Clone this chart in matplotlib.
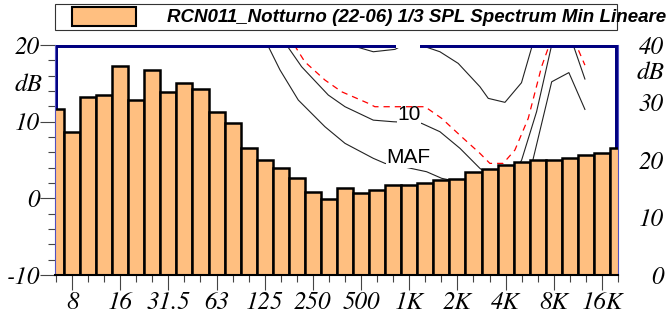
import matplotlib
matplotlib.use("Agg")
import matplotlib.pyplot as plt
from matplotlib.patches import Rectangle
from matplotlib.font_manager import FontProperties
from matplotlib.ticker import FixedLocator, MultipleLocator
import numpy as np

plt.rcParams['axes.unicode_minus'] = False

# 1/3 octave bands and measured levels (dB)
bands = ["6.3", "8", "10", "12.5", "16", "20", "25", "31.5", "40", "50",
         "63", "80", "100", "125", "160", "200", "250", "315", "400", "500",
         "630", "800", "1K", "1.25K", "1.6K", "2K", "2.5K", "3.15K", "4K", "5K",
         "6.3K", "8K", "10K", "12.5K", "16K", "20K"]
levels = [11.6, 8.6, 13.2, 13.5, 17.2, 12.8, 16.7, 13.9, 15.0, 14.2,
          11.3, 9.8, 6.6, 5.0, 4.0, 2.6, 0.8, -0.1, 1.4, 0.7,
          1.1, 1.8, 1.7, 2.0, 2.4, 2.5, 3.5, 3.8, 4.3, 4.8,
          5.0, 5.0, 5.3, 5.6, 5.9, 6.6]
tick_bands = ["8", "16", "31.5", "63", "125", "250", "500", "1K", "2K", "4K", "8K", "16K"]
left_ticks = [-10, 0, 10, 20]
right_ticks = [0, 10, 20, 30, 40]

# hearing curves, x in band position units
maf_x = [13.18, 13.95, 15.09, 16.75, 18.0, 19.76, 20.49, 21.9, 23.08, 24.02, 25.2, 27.5, 29.0, 29.7, 30.87, 31.94, 32.94]
maf_db = [20.0, 16.75, 12.82, 9.34, 7.17, 5.22, 4.56, 4.0, 3.47, 2.61, 2.1, 0.0, -1.0, 5.0, 15.2, 16.4, 11.6]
c10_x = [14.36, 15.3, 16.96, 18.0, 19.76, 21.0, 21.9, 22.77, 23.91, 25.16, 26.4, 27.0, 27.96, 28.58, 29.0, 29.93, 30.87, 31.5, 32.21, 32.94]
c10_db = [20.0, 17.16, 13.47, 11.95, 10.2, 9.99, 9.9, 9.78, 8.69, 6.52, 3.91, 3.0, 2.6, 3.4, 5.0, 11.3, 20.0, 25.0, 20.0, 15.56]
c20_x = [18.31, 19.76, 21.11, 21.9, 22.67, 23.91, 25.05, 26.4, 26.92, 27.96, 28.99, 29.67]
c20_db = [20.0, 19.12, 19.43, 20.3, 20.0, 19.12, 17.6, 14.56, 13.04, 12.52, 15.08, 20.0]
red_x = [14.84, 15.5, 16.75, 17.79, 19.45, 19.86, 22.98, 24.02, 25.26, 26.4, 27.02, 27.85, 28.58, 29.41, 30.24, 30.72, 31.5, 32.4, 32.94]
red_db = [20.0, 17.8, 15.43, 13.9, 12.39, 11.95, 11.95, 10.43, 8.03, 5.87, 4.56, 4.56, 6.3, 10.43, 17.16, 20.0, 26.0, 20.0, 17.37]

serif = FontProperties(family='FreeSerif', style='italic', size=18)

fig = plt.figure(figsize=(6.68, 3.22), dpi=100)
ax = fig.add_axes([55 / 668, 47 / 322, 563 / 668, 230 / 322])

x = np.arange(len(bands))
vals = np.array(levels)
ax.bar(x, vals + 10, bottom=-10, width=1.0, color='#FFBF80',
       edgecolor='black', linewidth=1.8, zorder=2)

ax.plot(maf_x, maf_db, color='#222222', lw=0.8, zorder=1.2)
ax.plot(c10_x, c10_db, color='#222222', lw=0.8, zorder=1.2)
ax.plot(c20_x, c20_db, color='#222222', lw=0.8, zorder=1.2)
ax.plot(red_x, red_db, color='red', lw=0.9, dashes=(5, 4), zorder=1.5)

ax.text(21.95, 5.3, "MAF", family='Liberation Sans', size=15, ha='center', va='center',
        zorder=1.4, bbox=dict(facecolor='white', edgecolor='none', pad=0.5))
ax.text(21.98, 10.9, "10", family='Liberation Sans', size=15, ha='center', va='center',
        zorder=1.4, bbox=dict(facecolor='white', edgecolor='none', pad=0.5))

# thick navy frame beneath the bars
ax.plot([0, 0, 1, 1], [0, 1, 1, 0], transform=ax.transAxes, color='#000080',
        lw=4.3, zorder=1.8, solid_joinstyle='miter')
ax.add_patch(Rectangle((21.2, 19.6), 1.5, 0.4, facecolor='white', edgecolor='none', zorder=1.9))

ax.set_xlim(-0.06, 35.0)
ax.set_ylim(-10, 20)

ax.spines['top'].set_visible(False)
ax.spines['left'].set_color('#5050c0')
ax.spines['left'].set_linewidth(0.8)
ax.spines['right'].set_color('#5050c0')
ax.spines['right'].set_linewidth(0.8)
ax.spines['bottom'].set_color('black')
ax.spines['bottom'].set_linewidth(1.5)

tick_pos = [bands.index(b) for b in tick_bands]
ax.set_xticks(tick_pos)
ax.set_xticklabels(tick_bands, fontproperties=serif)
ax.xaxis.set_minor_locator(FixedLocator(list(x)))
ax.tick_params(axis='x', which='major', length=10.5, width=0.8, color='#444444', pad=2)
ax.tick_params(axis='x', which='minor', length=5, width=0.8, color='#444444')

ax.set_yticks(left_ticks)
ax.set_yticklabels([str(v) for v in left_ticks], fontproperties=serif)
ax.yaxis.set_minor_locator(MultipleLocator(2))
ax.tick_params(axis='y', which='major', length=11, width=0.8, color='#444444', pad=0)
ax.tick_params(axis='y', which='minor', length=5, width=0.8, color='#444444')
fig.text(28 / 668, 1 - 85 / 322, "dB", ha='center', va='center', fontproperties=serif)

ax2 = ax.twinx()
ax2.set_ylim(0, 40)
for s in ax2.spines.values():
    s.set_visible(False)
ax2.patch.set_visible(False)
ax2.set_yticks(right_ticks)
ax2.set_yticklabels([str(v) for v in right_ticks], fontproperties=serif, ha='right')
ax2.tick_params(axis='y', length=0, pad=33)
fig.text(664 / 668, 1 - 73 / 322, "dB", ha='right', va='center', fontproperties=serif)

# legend box at top
fig.add_artist(Rectangle((55 / 668, 1 - 30 / 322), 562 / 668, 26 / 322, transform=fig.transFigure,
                         facecolor='white', edgecolor='#333333', lw=0.8))
fig.add_artist(Rectangle((72 / 668, 1 - 26 / 322), 64 / 668, 19 / 322, transform=fig.transFigure,
                         facecolor='#FFBF80', edgecolor='black', lw=1.5))
fig.text(167 / 668, 1 - 17 / 322, "RCN011_Notturno (22-06) 1/3 SPL Spectrum Min Lineare",
         family='Liberation Sans', weight='bold', style='italic', size=13.5, va='center')

fig.savefig('out.png', dpi=100)
